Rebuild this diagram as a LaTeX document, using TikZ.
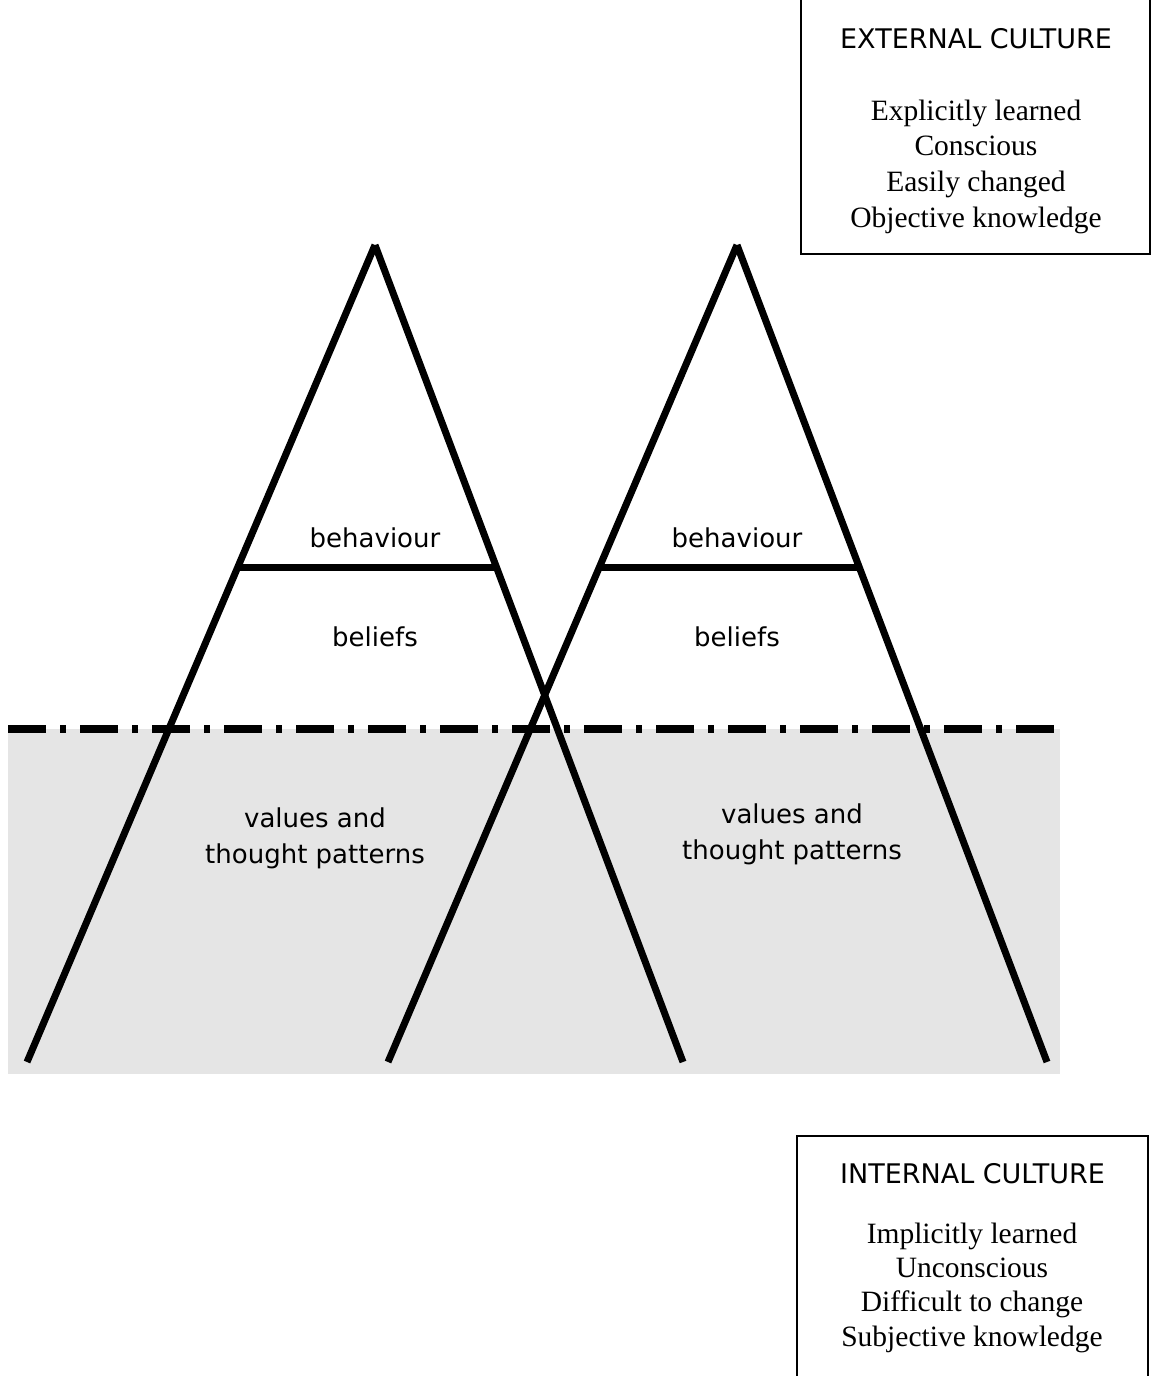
\documentclass[tikz,border=0pt]{standalone}
\usepackage{fontspec}
\usetikzlibrary{calc}
\setmainfont{Liberation Serif}
\newfontfamily\labelfont{DejaVu Sans}
\definecolor{sea}{HTML}{E5E5E5}
\tikzset{
  side/.style={line width=7pt},
  lbl/.style={font=\labelfont\fontsize{26}{36.5}\selectfont, align=center, inner sep=0pt},
  boxtext/.style={font=\fontsize{29.5}{35.7}\selectfont, align=center, inner sep=0pt},
  boxtitle/.style={font=\labelfont\fontsize{27}{30}\selectfont, inner sep=0pt, anchor=base},
  frame/.style={line width=2pt},
  waterline/.style={line width=8pt, dash pattern=on 38pt off 14pt on 6pt off 14pt}
}
\begin{document}
\begin{tikzpicture}[x=1pt,y=-1pt]
\useasboundingbox (0,0) rectangle (1152,1376);
% water
\fill[sea] (8,729) rectangle (1060,1074);
\draw[waterline] (8,729) -- (1060,729);
% left iceberg
\coordinate (LA) at (375,245);
\coordinate (LL) at (27,1062);
\coordinate (LR) at (683,1062);
\draw[side] (LA) -- (LL);
\draw[side] (LA) -- (LR);
\draw[side] ($(LA)!0.3953!(LL)$) -- ($(LA)!0.3953!(LR)$);
% right iceberg
\coordinate (RA) at (737,245);
\coordinate (RL) at (388,1062);
\coordinate (RR) at (1047,1062);
\draw[side] (RA) -- (RL);
\draw[side] (RA) -- (RR);
\draw[side] ($(RA)!0.3953!(RL)$) -- ($(RA)!0.3953!(RR)$);
% labels
\node[lbl, anchor=base] (lbeh) at (375,547) {behaviour};
\node[lbl, anchor=base] (lbel) at (375,646) {beliefs};
\node[lbl] (lval) at (315,838.5) {values and\\thought patterns};
\node[lbl, anchor=base] (rbeh) at (737,547) {behaviour};
\node[lbl, anchor=base] (rbel) at (737,646) {beliefs};
\node[lbl] (rval) at (792,834.5) {values and\\thought patterns};
% external culture box
\draw[frame] (801,-5) rectangle (1150,254);
\node[boxtitle] (ext) at (976,48) {EXTERNAL CULTURE};
\node[boxtext] (extl) at (976,166.5) {Explicitly learned\\Conscious\\Easily changed\\Objective knowledge};
% internal culture box
\draw[frame] (797,1381) rectangle (1148,1136);
\node[boxtitle] (int) at (972.5,1183) {INTERNAL CULTURE};
\node[boxtext, font=\fontsize{29.5}{34.3}\selectfont] (intl) at (972,1287.5) {Implicitly learned\\Unconscious\\Difficult to change\\Subjective knowledge};
\end{tikzpicture}
\end{document}
